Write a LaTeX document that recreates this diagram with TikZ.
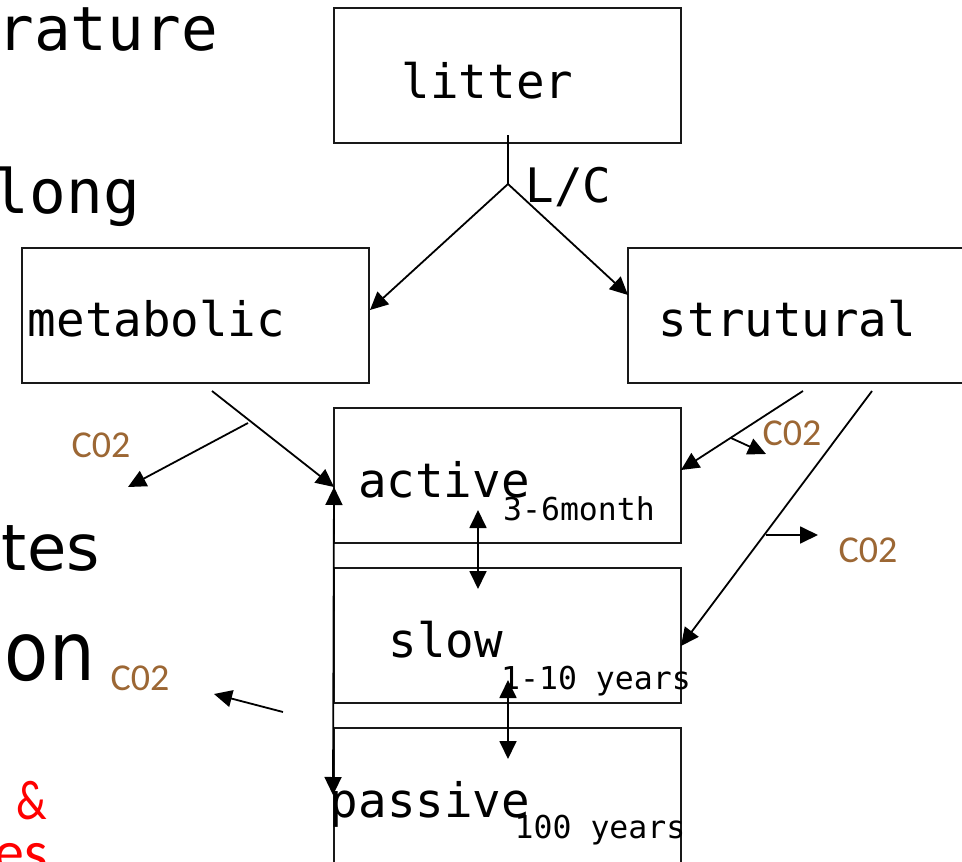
\documentclass[tikz,border=0pt]{standalone}
\usepackage{fontspec}
\usepackage{graphicx}
\usetikzlibrary{arrows.meta,calc}
\newfontfamily\monofont{DejaVu Sans Mono}
\newfontfamily\plainsans{DejaVu Sans}
\newfontfamily\calfont{Carlito}
\definecolor{cobrown}{RGB}{156,103,52}
\definecolor{textred}{RGB}{255,0,0}
\begin{document}
\begin{tikzpicture}[x=1pt,y=-1pt,
  pool/.style={draw=black!90,line width=1.7pt,rectangle,inner sep=0pt},
  pooltext/.style={anchor=base,inner sep=0pt,font=\monofont\fontsize{47.5}{50}\selectfont},
  agetext/.style={anchor=base,inner sep=0pt,font=\monofont\fontsize{31.5}{34}\selectfont},
  colabel/.style={anchor=base,inner sep=0pt,text=cobrown,font=\calfont\fontsize{38}{40}\selectfont},
  flow/.style={line width=1.8pt,-{Triangle[length=18pt,width=17pt]}},
  twoway/.style={line width=1.8pt,{Triangle[length=18pt,width=17pt]}-{Triangle[length=18pt,width=17pt]}},
  plain/.style={line width=1.8pt},
  sidetext/.style={anchor=base east,inner sep=0pt}]
\useasboundingbox (0,0) rectangle (962,862);
\clip (0,0) rectangle (962,862);
\fill[white] (0,0) rectangle (962,862);

% text running in from the left margin
\node[sidetext,font=\monofont\fontsize{61}{64}\selectfont] (t1) at (218,50) {rature};
\node[sidetext,font=\monofont\fontsize{61}{64}\selectfont] (t2) at (140,213) {long};
\node[sidetext,font=\plainsans\fontsize{64}{66}\selectfont] (t3) at (100,570) {tes};
\node[sidetext,font=\plainsans\fontsize{82}{84}\selectfont] (t4) at (95,680) {\scalebox{0.88}[1]{on}};
\node[anchor=base,inner sep=0pt,text=textred,font=\calfont\fontsize{56}{60}\selectfont] (t5) at (32,819) {\scalebox{0.8}[1]{\&}};
\node[sidetext,text=textred,font=\calfont\fontsize{60}{62}\selectfont] (t6) at (48,872) {es};

% pools
\node[pool,minimum width=347pt,minimum height=135pt] (litter) at (507.5,75.5) {};
\node[pool,minimum width=347pt,minimum height=135pt] (metabolic) at (195.5,315.5) {};
\node[pool,minimum width=347pt,minimum height=135pt] (strutural) at (801.5,315.5) {};
\node[pool,minimum width=347pt,minimum height=135pt] (active) at (507.5,475.5) {};
\node[pool,minimum width=347pt,minimum height=135pt] (slow) at (507.5,635.5) {};
\node[pool,minimum width=347pt,minimum height=135pt] (passive) at (507.5,795.5) {};

\node[pooltext] (littertxt) at (487.5,98) {litter};
\node[pooltext] (metabolictxt) at (156.5,336) {metabolic};
\node[pooltext] (struturaltxt) at (787.5,336) {strutural};
\node[pooltext] (activetxt) at (444,497) {active};
\node[pooltext] (slowtxt) at (446,657) {slow};
\node[pooltext] (passivetxt) at (430,817) {passive};

\node[agetext] (activeage) at (579,520) {3-6month};
\node[agetext] (slowage) at (596,689) {1-10 years};
\node[agetext] (passiveage) at (600,838) {100 years};

\node[pooltext] (lc) at (568.5,202) {L/C};

% CO2 labels
\node[colabel] (co2a) at (101,457) {C02};
\node[colabel] (co2b) at (792,445) {C02};
\node[colabel] (co2c) at (868,562) {C02};
\node[colabel] (co2d) at (140,690) {C02};

% branch and end points of the flows
\coordinate (split) at (508,184);
\coordinate (litterout) at (508,135);
\coordinate (metin) at (370,310);
\coordinate (strin) at (628,295);
\coordinate (metout) at (212,391);
\coordinate (actinm) at (334,487);
\coordinate (metco2s) at (248,423);
\coordinate (metco2e) at (128,487);
\coordinate (strouta) at (803,391);
\coordinate (actins) at (681,470);
\coordinate (strco2s) at (731,438);
\coordinate (strco2e) at (766,454);
\coordinate (stroutb) at (872,391);
\coordinate (slowins) at (681,646);
\coordinate (slowco2s) at (766,535);
\coordinate (slowco2e) at (818,535);
\coordinate (asA) at (478,510);
\coordinate (asB) at (478,589);
\coordinate (spA) at (508,680);
\coordinate (spB) at (508,759);
\coordinate (pasup) at (333,795);
\coordinate (actdown) at (334,487);
\coordinate (botco2s) at (283,712);
\coordinate (botco2e) at (214,694);

% litter split by L/C
\draw[plain] (litterout) -- (split);
\draw[flow] (split) -- (metin);
\draw[flow] (split) -- (strin);

% metabolic to active, with respiration
\draw[flow] (metout) -- (actinm);
\draw[flow] (metco2s) -- (metco2e);

% structural to active and slow, with respiration
\draw[flow] (strouta) -- (actins);
\draw[flow] (strco2s) -- (strco2e);
\draw[flow] (stroutb) -- (slowins);
\draw[flow] (slowco2s) -- (slowco2e);

% exchanges between the soil pools
\draw[twoway] (asA) -- (asB);
\draw[twoway] (spA) -- (spB);
\draw[twoway] (pasup) -- (actdown);

% loose respiration arrow
\draw[flow] (botco2s) -- (botco2e);
\end{tikzpicture}
\end{document}
